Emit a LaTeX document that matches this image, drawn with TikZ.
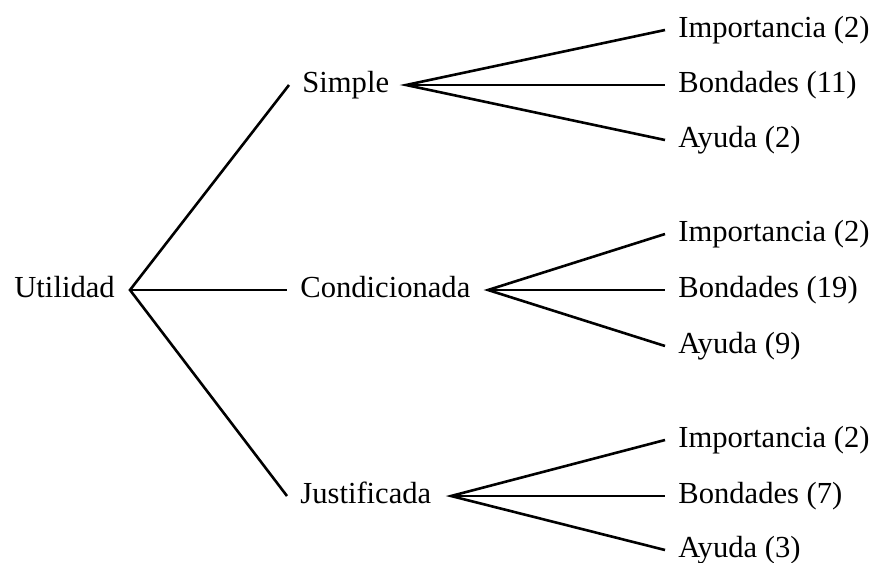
\documentclass[tikz,border=0pt]{standalone}
\usepackage{fontspec}
\setmainfont{Liberation Serif}
\begin{document}
\begin{tikzpicture}[x=0.5pt,y=-0.5pt,
  lbl/.style={anchor=west,inner xsep=6.5pt,inner ysep=0pt,text height=7.5pt,text depth=0pt,font=\fontsize{15.3}{18}\selectfont},
  edge/.style={line width=1.3pt}]
\useasboundingbox (0,0) rectangle (875,563);
% root
\node[lbl] (u) at (1,290) {Utilidad};
\coordinate (uj) at (130,290);
% second level
\node[lbl] (s) at (289,85) {Simple};
\coordinate (sj) at (406,85);
\node[lbl] (c) at (287,290) {Condicionada};
\coordinate (cj) at (488,290);
\node[lbl] (j) at (287,496) {Justificada};
\coordinate (jj) at (451,496);
% leaves
\node[lbl] (s1) at (665,30) {Importancia (2)};
\node[lbl] (s2) at (665,85) {Bondades (11)};
\node[lbl] (s3) at (665,140) {Ayuda (2)};
\node[lbl] (c1) at (665,234) {Importancia (2)};
\node[lbl] (c2) at (665,290) {Bondades (19)};
\node[lbl] (c3) at (665,346) {Ayuda (9)};
\node[lbl] (j1) at (665,440) {Importancia (2)};
\node[lbl] (j2) at (665,496) {Bondades (7)};
\node[lbl] (j3) at (665,550) {Ayuda (3)};
% edges
\draw[edge] (s.west) -- (uj) -- (j.west);
\draw[edge] (uj) -- (c.west);
\draw[edge] (s1.west) -- (sj) -- (s3.west);
\draw[edge] (sj) -- (s2.west);
\draw[edge] (c1.west) -- (cj) -- (c3.west);
\draw[edge] (cj) -- (c2.west);
\draw[edge] (j1.west) -- (jj) -- (j3.west);
\draw[edge] (jj) -- (j2.west);
\end{tikzpicture}
\end{document}
